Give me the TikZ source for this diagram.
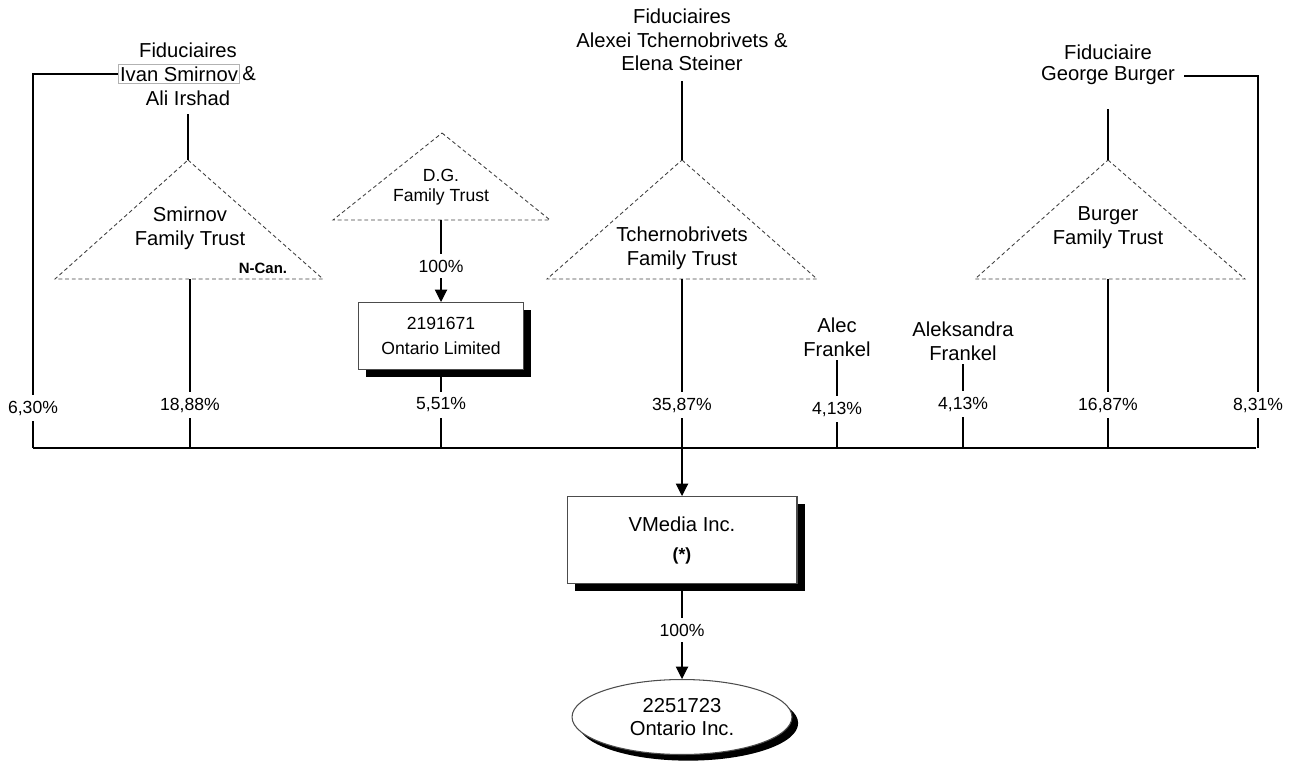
\documentclass[tikz,border=0pt]{standalone}
\usepackage{fontspec}
\setmainfont{Liberation Sans}
\usetikzlibrary{arrows.meta,shadows,shapes.geometric}

\begin{document}
\begin{tikzpicture}[x=0.02cm,y=-0.02cm,line width=0.6pt,
    every node/.style={font=\fontsize{11.5}{13.5}\selectfont,align=center,inner sep=2pt},
    pct/.style={font=\fontsize{10}{12}\selectfont,inner sep=3pt},
    trust/.style={draw=black!75,dashed,dash pattern=on 2.2pt off 1.6pt,line width=0.5pt},
    cobox/.style={draw=black!70,fill=white,drop shadow={shadow xshift=4.5pt,shadow yshift=-4.5pt,fill=black,opacity=1}},
    arr/.style={-{Triangle[length=7pt,width=7pt]}}]
  \useasboundingbox (0,0) rectangle (1293,771);

  % trustees
  \node (fidS) at (188,50) {Fiduciaires};
  \node[draw=black!30,line width=0.5pt,inner sep=1pt] (ivan) at (179,74) {Ivan Smirnov};
  \node[anchor=west,inner sep=1pt] (amp) at (ivan.east) {\&};
  \node (ali) at (188,98) {Ali Irshad};
  \node (fidT) at (682,40) {Fiduciaires\\Alexei Tchernobrivets \&\\Elena Steiner};
  \node (fidB) at (1108,52) {Fiduciaire};
  \node[inner xsep=5pt] (george) at (1108,76) {George Burger};

  % family trusts
  \coordinate (smTop) at (188,160);
  \coordinate (smBot) at (190,279);
  \draw[trust] (smTop) -- (323,279) -- (55,279) -- cycle;
  \node (smirnov) at (190,228) {Smirnov\\Family Trust};
  \node[font=\bfseries\fontsize{8.5}{10}\selectfont] (ncan) at (263,268) {N-Can.};

  \coordinate (dgTop) at (442,133);
  \coordinate (dgBot) at (441,220);
  \draw[trust] (dgTop) -- (550,220) -- (333,220) -- cycle;
  \node[font=\fontsize{10}{11.5}\selectfont] (dg) at (441,187) {D.G.\\Family Trust};

  \coordinate (tcTop) at (682,160);
  \coordinate (tcBot) at (682,279);
  \draw[trust] (tcTop) -- (817,279) -- (547,279) -- cycle;
  \node (tcher) at (682,248) {Tchernobrivets\\Family Trust};

  \coordinate (buTop) at (1108,160);
  \coordinate (buBot) at (1108,279);
  \draw[trust] (buTop) -- (1245,279) -- (975,279) -- cycle;
  \node (burger) at (1108,228) {Burger\\Family Trust};

  % companies and persons
  \node[cobox,font=\fontsize{10}{14}\selectfont,minimum width=3.3cm,minimum height=1.34cm] (ont1) at (441,336) {2191671\\Ontario Limited};
  \node (alec) at (837,337) {Alec\\Frankel};
  \node (aleks) at (963,341) {Aleksandra\\Frankel};
  \node[cobox,minimum width=4.6cm,minimum height=1.74cm] (vmedia) at (682,540) {VMedia Inc.\\[3pt]{\bfseries\fontsize{10}{12}\selectfont(*)}};
  \node[ellipse,draw=black!70,fill=white,inner sep=0pt,minimum width=4.4cm,minimum height=1.5cm,
        drop shadow={shadow xshift=3.5pt,shadow yshift=-3.5pt,fill=black,opacity=1}] (ont2) at (682,717) {2251723\\Ontario Inc.};

  % percentages
  \node[pct] (p1) at (33,408) {6,30\%};
  \node[pct] (p2) at (190,405) {18,88\%};
  \node[pct] (p3) at (441,405) {5,51\%};
  \node[pct] (p4) at (682,405) {35,87\%};
  \node[pct] (p5) at (837,409) {4,13\%};
  \node[pct] (p6) at (963,404) {4,13\%};
  \node[pct] (p7) at (1108,405) {16,87\%};
  \node[pct] (p8) at (1258,405) {8,31\%};
  \node[pct] (dgpct) at (441,266) {100\%};
  \node[pct] (vmpct) at (682,630) {100\%};

  \coordinate (busL) at (33,448);
  \coordinate (busR) at (1256,448);
  \draw (busL) -- (busR);

  % connectors
  \draw (ivan.west) -| (p1);
  \draw ([yshift=-0.1cm]ali.south) -- (smTop);
  \draw ([yshift=-0.12cm]fidT.south) -- (tcTop);
  \draw ([yshift=-0.4cm]george.south) -- (buTop);
  \draw (george.east) -| (p8);
  \draw (dgBot) -- (dgpct);
  \draw[arr] (dgpct) -- (ont1);
  \draw (smBot) -- (p2);
  \draw (ont1) -- (p3);
  \draw (tcBot) -- (p4);
  \draw (alec) -- (p5);
  \draw (aleks) -- (p6);
  \draw (buBot) -- (p7);
  \foreach \p in {p1,p2,p3,p5,p6,p7,p8}
    \draw (\p) -- (\p |- busL);
  \draw[arr] (p4) -- (vmedia);
  \draw (vmedia) -- (vmpct);
  \draw[arr] (vmpct) -- (ont2);
\end{tikzpicture}
\end{document}
